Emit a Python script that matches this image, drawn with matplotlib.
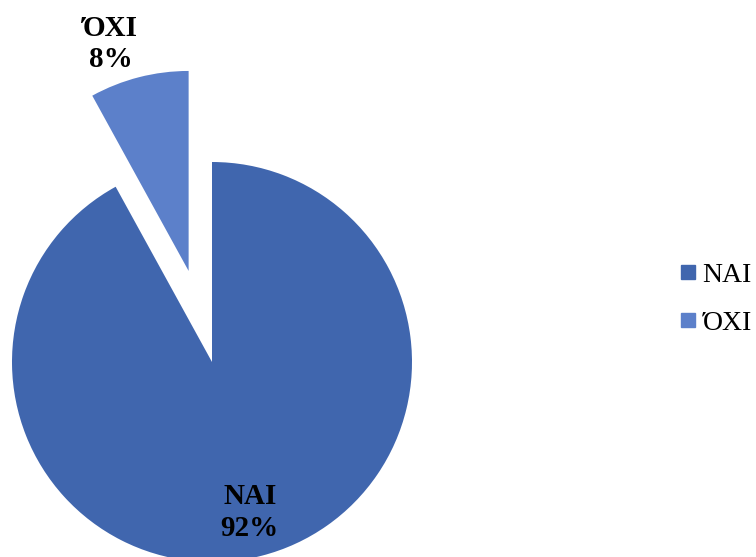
import numpy as np
import matplotlib
matplotlib.use("Agg")
import matplotlib.pyplot as plt
from matplotlib.lines import Line2D

categories = ["ΝΑΙ", "ΌΧΙ"]
values = [92, 8]
colors = ["#4066AE", "#5C80CA"]

W, H = 756, 557
fig = plt.figure(figsize=(W / 100, H / 100), dpi=100)
ax = fig.add_axes([0, 0, 1, 1])

cx, cy, r = 212, H - 362, 200
explode_frac = [0, 0.47]
wedges, _ = ax.pie(values, colors=colors, startangle=90, counterclock=False,
                   center=(cx, cy), radius=r,
                   explode=[e * r for e in explode_frac],
                   wedgeprops=dict(linewidth=0), frame=True)
ax.set_xlim(0, W)
ax.set_ylim(0, H)
ax.set_aspect("equal")
ax.axis("off")

font = "Liberation Serif"
dist = [0.775, 1.2]
dang = [-0.3, 4.5]
for w, cat, v, d, da in zip(wedges, categories, values, dist, dang):
    mid = np.deg2rad((w.theta1 + w.theta2) / 2 + da)
    x0, y0 = w.center
    x = x0 + d * r * np.cos(mid)
    y = y0 + d * r * np.sin(mid)
    ax.text(x, y, f"{cat}\n{v}%", ha="center", va="center", fontsize=21,
            fontweight="bold", family=font, linespacing=1.22)

handles = [Line2D([], [], marker="s", linestyle="none", markersize=9.5,
                  markerfacecolor=c, markeredgecolor=c) for c in colors]
leg = fig.legend(handles, categories, loc="center left",
                 bbox_to_anchor=(669 / W, 1 - 299 / H), frameon=False,
                 prop={"family": font, "size": 20}, handlelength=0.6,
                 handletextpad=0.2, labelspacing=0.8, borderaxespad=0)

fig.savefig("out.png", dpi=100)
